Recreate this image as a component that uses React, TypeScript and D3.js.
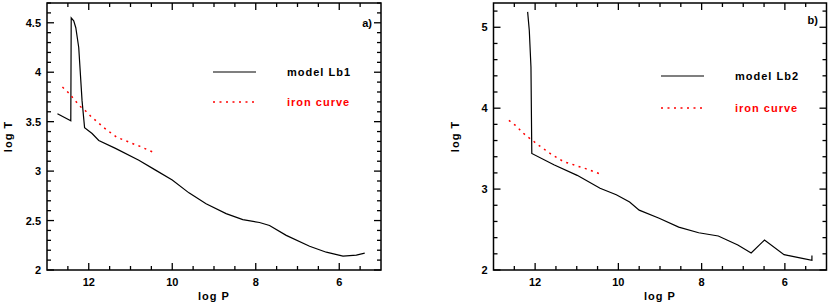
import React from 'react';
import * as d3 from 'd3';

// model Lb1 (panel a): [log P, log T]
const modelLb1: [number, number][] = [
  [12.75, 3.58], [12.43, 3.51], [12.42, 4.55], [12.36, 4.52], [12.31, 4.45],
  [12.24, 4.25], [12.16, 3.71], [12.10, 3.44], [11.92, 3.38], [11.76, 3.31],
  [11.36, 3.23], [10.80, 3.11], [10.40, 3.01], [10.00, 2.91], [9.60, 2.78],
  [9.19, 2.67], [8.71, 2.57], [8.31, 2.51], [7.91, 2.48], [7.67, 2.45],
  [7.27, 2.35], [6.71, 2.24], [6.31, 2.18], [5.91, 2.14], [5.59, 2.15],
  [5.39, 2.17],
];

// model Lb2 (panel b)
const modelLb2: [number, number][] = [
  [12.18, 5.19], [12.14, 4.96], [12.10, 4.51], [12.08, 3.44], [11.55, 3.30],
  [10.99, 3.17], [10.44, 3.01], [10.05, 2.93], [9.73, 2.84], [9.50, 2.74],
  [9.02, 2.64], [8.55, 2.53], [8.07, 2.46], [7.60, 2.42], [7.13, 2.31],
  [6.81, 2.21], [6.49, 2.37], [6.02, 2.19], [5.55, 2.14], [5.35, 2.12],
  [5.35, 2.18],
];

// iron curve (same in both panels)
const ironCurve: [number, number][] = [
  [12.63, 3.85], [12.48, 3.79], [12.36, 3.73], [12.22, 3.66], [12.08, 3.61],
  [11.94, 3.55], [11.80, 3.50], [11.64, 3.44], [11.48, 3.39], [11.32, 3.34],
  [11.13, 3.31], [10.96, 3.28], [10.77, 3.25], [10.40, 3.18],
];

const xDomain: [number, number] = [13, 5];
const xMajor = [12, 10, 8, 6];

const panels = [
  {
    left: 47, right: 381, yDomain: [2, 4.7] as [number, number],
    yMajorStep: 0.5, yMinorStep: 0.1, yLabels: ['2', '2.5', '3', '3.5', '4', '4.5'],
    model: modelLb1, modelName: 'model Lb1', tag: 'a)',
    legendX: 213, legendY: [72, 102], tagPos: [372, 27],
  },
  {
    left: 493.5, right: 826.5, yDomain: [2, 5.3] as [number, number],
    yMajorStep: 1, yMinorStep: 0.2, yLabels: ['2', '3', '4', '5'],
    model: modelLb2, modelName: 'model Lb2', tag: 'b)',
    legendX: 661, legendY: [76, 108], tagPos: [818, 24],
  },
];

const TOP = 3;
const BOTTOM = 270;
const FONT = '"Liberation Sans", Arial, sans-serif';

const range = (a: number, b: number, s: number) => {
  const out: number[] = [];
  for (let v = a; v <= b + 1e-9; v += s) out.push(Math.round(v * 1000) / 1000);
  return out;
};

const Panel = ({ p }: { p: typeof panels[number] }) => {
  const x = d3.scaleLinear().domain(xDomain).range([p.left, p.right]);
  const y = d3.scaleLinear().domain(p.yDomain).range([BOTTOM, TOP]);
  const line = d3.line<[number, number]>().x(d => x(d[0])).y(d => y(d[1]));

  const xMinor = range(5.5, 12.5, 0.5).filter(v => !xMajor.includes(v));
  const yMajor = p.yLabels.map(Number);
  const yMinor = range(p.yDomain[0], p.yDomain[1], p.yMinorStep).filter(
    v => !yMajor.some(m => Math.abs(m - v) < 1e-6)
  );

  const tick = (x1: number, y1: number, x2: number, y2: number, k: string) => (
    <line key={k} x1={x1} y1={y1} x2={x2} y2={y2} stroke="#000" strokeWidth={1.3} />
  );

  return (
    <g>
      {/* ticks: bottom/top */}
      {xMajor.map(v => tick(x(v), BOTTOM, x(v), BOTTOM - 7, 'xb' + v))}
      {xMajor.map(v => tick(x(v), TOP, x(v), TOP + 7, 'xt' + v))}
      {xMinor.map(v => tick(x(v), BOTTOM, x(v), BOTTOM - 4, 'xbm' + v))}
      {xMinor.map(v => tick(x(v), TOP, x(v), TOP + 4, 'xtm' + v))}
      {/* ticks: left/right */}
      {yMajor.map(v => tick(p.left, y(v), p.left + 7, y(v), 'yl' + v))}
      {yMajor.map(v => tick(p.right, y(v), p.right - 7, y(v), 'yr' + v))}
      {yMinor.map(v => tick(p.left, y(v), p.left + 4, y(v), 'ylm' + v))}
      {yMinor.map(v => tick(p.right, y(v), p.right - 4, y(v), 'yrm' + v))}

      <rect x={p.left} y={TOP} width={p.right - p.left} height={BOTTOM - TOP}
        fill="none" stroke="#000" strokeWidth={1.5} />

      {/* tick labels */}
      {xMajor.map(v => (
        <text key={'xl' + v} x={x(v)} y={286} textAnchor="middle" fontSize={11}
          fontWeight="bold" fontFamily={FONT}>{v}</text>
      ))}
      {p.yLabels.map(l => (
        <text key={'yll' + l} x={p.left - 6} y={y(+l) + 4} textAnchor="end" fontSize={11}
          fontWeight="bold" fontFamily={FONT}>{l}</text>
      ))}

      {/* axis titles */}
      <text x={(p.left + p.right) / 2} y={300} textAnchor="middle" fontSize={11}
        fontWeight="bold" fontFamily={FONT} letterSpacing={1}>log P</text>
      <text transform={`translate(${p.left - 35},${(TOP + BOTTOM) / 2}) rotate(-90)`}
        textAnchor="middle" fontSize={11} fontWeight="bold" fontFamily={FONT}
        letterSpacing={1}>log T</text>

      {/* curves */}
      <path d={line(p.model) || ''} fill="none" stroke="#000" strokeWidth={1.2} />
      <path d={line(ironCurve) || ''} fill="none" stroke="#ff0000" strokeWidth={1.5}
        strokeDasharray="2,4.5" />

      {/* legend */}
      <line x1={p.legendX} x2={p.legendX + 43} y1={p.legendY[0]} y2={p.legendY[0]}
        stroke="#000" strokeWidth={1.2} />
      <text x={p.legendX + 74} y={p.legendY[0] + 4} fontSize={11} fontWeight="bold"
        fontFamily={FONT} letterSpacing={1}>{p.modelName}</text>
      <line x1={p.legendX} x2={p.legendX + 43} y1={p.legendY[1]} y2={p.legendY[1]}
        stroke="#ff0000" strokeWidth={1.5} strokeDasharray="2,4.5" />
      <text x={p.legendX + 74} y={p.legendY[1] + 4} fontSize={11} fontWeight="bold"
        fontFamily={FONT} letterSpacing={1} fill="#ff0000">iron curve</text>

      <text x={p.tagPos[0]} y={p.tagPos[1]} textAnchor="end" fontSize={11}
        fontWeight="bold" fontFamily={FONT}>{p.tag}</text>
    </g>
  );
};

const App = () => (
  <svg width={830} height={305} style={{ position: 'absolute', left: 0, top: 0, background: '#fff' }}>
    {panels.map(p => <Panel key={p.tag} p={p} />)}
  </svg>
);

export default App;
